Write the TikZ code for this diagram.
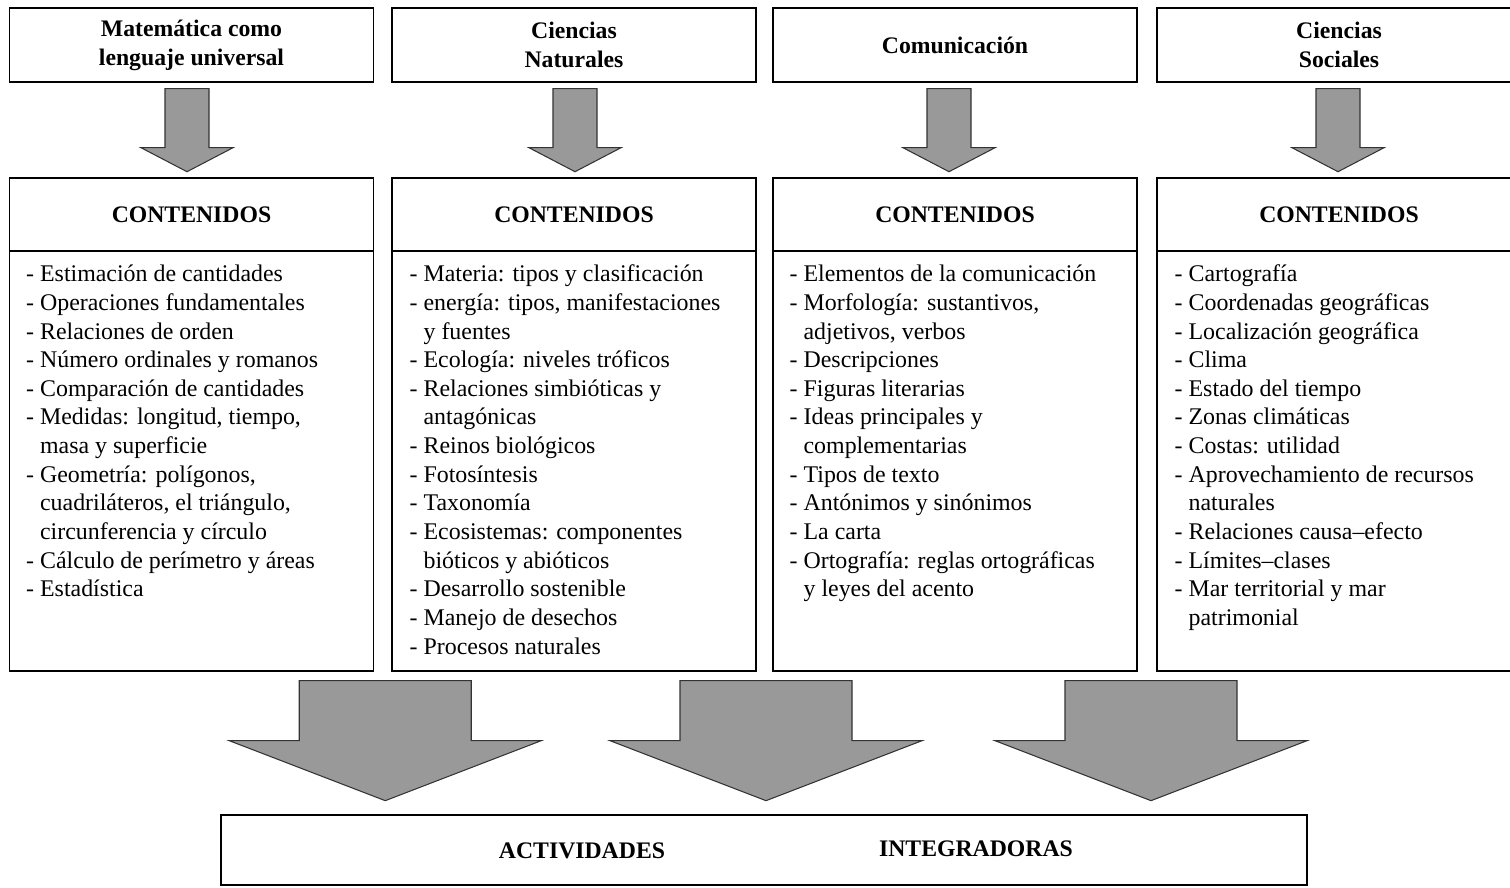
\documentclass[tikz,border=0pt]{standalone}
\usepackage{fontspec}
\setmainfont{Liberation Serif}
\usetikzlibrary{calc}
\tikzset{titlebox/.style = {
    draw,
    line width = 0.8pt,
    minimum width = 7.28cm,
    minimum height = 1.48cm,
    align = center,
    font = \bfseries\fontsize{13.5}{16.4}\selectfont
}}
\tikzset{listbox/.style = {
    draw,
    line width = 0.8pt,
    minimum width = 7.28cm,
    minimum height = 8.4cm
}}
\tikzset{listtext/.style = {
    anchor = north west,
    inner sep = 0pt,
    align = left,
    font = \fontsize{13.6}{16.3}\selectfont
}}
\tikzset{blockarrow/.style = {
    fill = black!40,
    draw = black!80,
    line width = 0.6pt,
    line join = miter
}}

\begin{document}
\begin{tikzpicture}[x = 0.02cm, y = -0.02cm]
    \useasboundingbox 
        (0, 0) rectangle (1510, 887)
    ;

    % Areas
    \node [titlebox] (t1) at (191.5, 45) {Matemática como\\lenguaje universal};
    \node [titlebox] (t2) at (574, 45) {Ciencias\\Naturales};
    \node [titlebox] (t3) at (955, 45) {Comunicación};
    \node [titlebox] (t4) at (1339, 45) {Ciencias\\Sociales};

    % Contents
    \node [titlebox, minimum height = 1.46cm] (h1) at (191.5, 214.5) {CONTENIDOS};
    \node [titlebox, minimum height = 1.46cm] (h2) at (574, 214.5) {CONTENIDOS};
    \node [titlebox, minimum height = 1.46cm] (h3) at (955, 214.5) {CONTENIDOS};
    \node [titlebox, minimum height = 1.46cm] (h4) at (1339, 214.5) {CONTENIDOS};

    \node [listbox] (b1) at (191.5, 461) {};
    \node [listbox] (b2) at (574, 461) {};
    \node [listbox] (b3) at (955, 461) {};
    \node [listbox] (b4) at (1339, 461) {};

    \node [listtext] (l1) at ($(b1.north west) + (17, 11)$) {%
        \strut- Estimación de cantidades\\
        - Operaciones fundamentales\\
        - Relaciones de orden\\
        - Número ordinales y romanos\\
        - Comparación de cantidades\\
        - Medidas: longitud, tiempo,\\
        \phantom{-} masa y superficie\\
        - Geometría: polígonos,\\
        \phantom{-} cuadriláteros, el triángulo,\\
        \phantom{-} circunferencia y círculo\\
        - Cálculo de perímetro y áreas\\
        - Estadística};
    \node [listtext] (l2) at ($(b2.north west) + (18, 11)$) {%
        \strut- Materia: tipos y clasificación\\
        - energía: tipos, manifestaciones\\
        \phantom{-} y fuentes\\
        - Ecología: niveles tróficos\\
        - Relaciones simbióticas y\\
        \phantom{-} antagónicas\\
        - Reinos biológicos\\
        - Fotosíntesis\\
        - Taxonomía\\
        - Ecosistemas: componentes\\
        \phantom{-} bióticos y abióticos\\
        - Desarrollo sostenible\\
        - Manejo de desechos\\
        - Procesos naturales};
    \node [listtext] (l3) at ($(b3.north west) + (17, 11)$) {%
        \strut- Elementos de la comunicación\\
        - Morfología: sustantivos,\\
        \phantom{-} adjetivos, verbos\\
        - Descripciones\\
        - Figuras literarias\\
        - Ideas principales y\\
        \phantom{-} complementarias\\
        - Tipos de texto\\
        - Antónimos y sinónimos\\
        - La carta\\
        - Ortografía: reglas ortográficas\\
        \phantom{-} y leyes del acento};
    \node [listtext] (l4) at ($(b4.north west) + (18, 11)$) {%
        \strut- Cartografía\\
        - Coordenadas geográficas\\
        - Localización geográfica\\
        - Clima\\
        - Estado del tiempo\\
        - Zonas climáticas\\
        - Costas: utilidad\\
        - Aprovechamiento de recursos\\
        \phantom{-} naturales\\
        - Relaciones causa–efecto\\
        - Límites–clases\\
        - Mar territorial y mar\\
        \phantom{-} patrimonial};

    % Activities
    \node [draw, line width = 0.8pt, minimum width = 21.72cm, minimum height = 1.4cm] 
        (actv) at (764, 850) {};
    \node [font = \bfseries\fontsize{13.5}{16.4}\selectfont] 
        (act) at ($(actv.center) + (-182, 1)$) {ACTIVIDADES};
    \node [font = \bfseries\fontsize{13.5}{16.4}\selectfont] 
        (int) at ($(actv.center) + (212, -1)$) {INTEGRADORAS};

    % Small arrows
    \filldraw 
        [blockarrow] 
        ($(t1.south) + (-26.5, 6)$) 
        -- ++(0, 59) -- ++(-24, 0) -- ++(46, 24) 
        -- ++(46, -24) -- ++(-24, 0) -- ++(0, -59) -- cycle
    ;
    \filldraw 
        [blockarrow] 
        ($(t2.south) + (-21, 6)$) 
        -- ++(0, 59) -- ++(-24, 0) -- ++(46, 24) 
        -- ++(46, -24) -- ++(-24, 0) -- ++(0, -59) -- cycle
    ;
    \filldraw 
        [blockarrow] 
        ($(t3.south) + (-28, 6)$) 
        -- ++(0, 59) -- ++(-24, 0) -- ++(46, 24) 
        -- ++(46, -24) -- ++(-24, 0) -- ++(0, -59) -- cycle
    ;
    \filldraw 
        [blockarrow] 
        ($(t4.south) + (-23, 6)$) 
        -- ++(0, 59) -- ++(-24, 0) -- ++(46, 24) 
        -- ++(46, -24) -- ++(-24, 0) -- ++(0, -59) -- cycle
    ;

    % Big arrows
    \filldraw 
        [blockarrow] 
        ($($(b1.south east)!0.5!(b2.south west)$) + (-83.5, 9)$) 
        -- ++(0, 60) -- ++(-70, 0) -- ++(156, 60) 
        -- ++(156, -60) -- ++(-70, 0) -- ++(0, -60) -- cycle
    ;
    \filldraw 
        [blockarrow] 
        ($($(b2.south east)!0.5!(b3.south west)$) + (-84.5, 9)$) 
        -- ++(0, 60) -- ++(-70, 0) -- ++(156, 60) 
        -- ++(156, -60) -- ++(-70, 0) -- ++(0, -60) -- cycle
    ;
    \filldraw 
        [blockarrow] 
        ($($(b3.south east)!0.5!(b4.south west)$) + (-82, 9)$) 
        -- ++(0, 60) -- ++(-70, 0) -- ++(156, 60) 
        -- ++(156, -60) -- ++(-70, 0) -- ++(0, -60) -- cycle
    ;

\end{tikzpicture}
\end{document}
